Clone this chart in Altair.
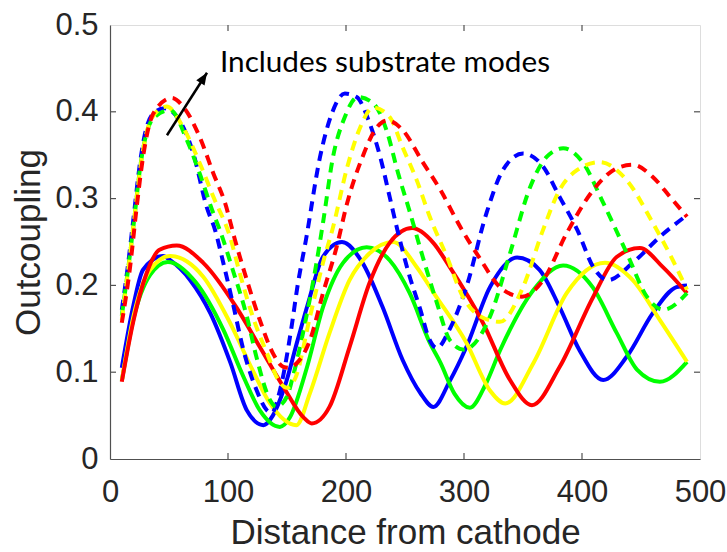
import altair as alt
import pandas as pd

# ---------------- data ----------------
blue_solid_x = [10, 20, 28, 45, 51, 68, 85, 102, 116, 130, 138, 148, 159, 168, 180.5, 196.6, 214, 231, 248, 263, 274, 288, 302, 322, 345, 364, 381, 398, 418, 438, 460, 480, 489]
blue_solid_y = [0.105, 0.178, 0.218, 0.234, 0.229, 0.206, 0.168, 0.111, 0.056, 0.039, 0.05, 0.083, 0.137, 0.18, 0.233, 0.25, 0.226, 0.175, 0.114, 0.076, 0.06, 0.09, 0.129, 0.198, 0.232, 0.218, 0.175, 0.125, 0.091, 0.118, 0.168, 0.198, 0.2]

green_solid_x = [10, 20, 34, 49, 73, 96, 113, 127, 144, 152.5, 167, 180.5, 197.5, 217.5, 237, 254, 271, 280, 292, 305, 318, 330.5, 359, 384, 409, 429.5, 446.6, 466, 489]
green_solid_y = [0.09, 0.162, 0.212, 0.227, 0.203, 0.149, 0.095, 0.056, 0.037, 0.048, 0.106, 0.175, 0.226, 0.244, 0.229, 0.191, 0.134, 0.111, 0.075, 0.059, 0.085, 0.125, 0.195, 0.223, 0.198, 0.145, 0.103, 0.089, 0.112]

yellow_solid_x = [10, 20, 34, 51, 79, 101.7, 121, 135.6, 158, 169.5, 186, 203, 220, 240, 260, 275, 302, 322, 335, 359, 387, 419.5, 443, 466, 489]
yellow_solid_y = [0.09, 0.165, 0.218, 0.234, 0.21, 0.157, 0.102, 0.064, 0.039, 0.076, 0.145, 0.206, 0.237, 0.25, 0.221, 0.19, 0.134, 0.079, 0.064, 0.111, 0.191, 0.226, 0.206, 0.16, 0.112]

red_solid_x = [10, 20, 31, 42, 56.5, 79, 107, 127, 147, 164, 171, 186, 203, 220, 237, 256, 274, 288, 316, 339, 357.6, 381, 409.6, 429.6, 449, 468.6, 489]
red_solid_y = [0.089, 0.16, 0.214, 0.241, 0.246, 0.226, 0.175, 0.129, 0.083, 0.048, 0.041, 0.06, 0.129, 0.203, 0.249, 0.266, 0.249, 0.221, 0.157, 0.091, 0.062, 0.106, 0.187, 0.233, 0.243, 0.221, 0.191]

blue_dash_x = [10, 15, 19.7, 25.4, 29.7, 36.7, 46, 59, 70.6, 82, 89, 96, 104, 113, 124, 133, 137, 144, 153.5, 159, 166, 178, 188, 199, 209, 220, 229, 237, 243, 254, 263, 270, 277, 288, 302, 319, 333, 350, 367, 381, 396, 409.6, 422, 443, 466, 489]
blue_dash_y = [0.172, 0.221, 0.275, 0.341, 0.375, 0.398, 0.404, 0.39, 0.352, 0.29, 0.264, 0.226, 0.18, 0.126, 0.08, 0.056, 0.053, 0.079, 0.149, 0.2, 0.252, 0.348, 0.398, 0.421, 0.417, 0.387, 0.348, 0.302, 0.267, 0.21, 0.172, 0.14, 0.128, 0.15, 0.198, 0.283, 0.333, 0.352, 0.337, 0.302, 0.264, 0.221, 0.206, 0.226, 0.256, 0.281]

green_dash_x = [10, 15, 20, 26, 30, 37, 51, 65, 76, 87.6, 93, 104, 116, 124, 135.6, 141, 150, 155, 167, 175, 180.5, 189, 199, 210, 223, 235, 244, 254, 265, 277, 288, 300, 322, 339, 356, 370, 384, 401, 418, 438, 455, 469, 489]
green_dash_y = [0.165, 0.215, 0.27, 0.34, 0.37, 0.393, 0.402, 0.368, 0.329, 0.283, 0.264, 0.218, 0.164, 0.118, 0.068, 0.06, 0.072, 0.095, 0.168, 0.226, 0.272, 0.348, 0.394, 0.417, 0.41, 0.376, 0.33, 0.285, 0.233, 0.18, 0.137, 0.126, 0.164, 0.237, 0.313, 0.348, 0.358, 0.341, 0.295, 0.237, 0.187, 0.172, 0.191]

yellow_dash_x = [10, 15, 20, 26, 30, 37, 48, 62, 76, 87.6, 101.7, 110, 121, 133, 144, 150, 157, 169.5, 180.5, 189, 201, 212, 223, 237, 248, 260, 271, 285.5, 299, 313, 330.5, 350, 367, 381, 396, 415, 438, 460, 477, 489]
yellow_dash_y = [0.16, 0.213, 0.27, 0.338, 0.37, 0.396, 0.406, 0.382, 0.341, 0.302, 0.256, 0.214, 0.164, 0.122, 0.088, 0.082, 0.093, 0.164, 0.226, 0.267, 0.336, 0.382, 0.405, 0.394, 0.359, 0.321, 0.279, 0.233, 0.187, 0.165, 0.158, 0.198, 0.264, 0.31, 0.333, 0.342, 0.321, 0.272, 0.229, 0.195]

red_dash_x = [10, 17, 22.6, 28, 36.7, 52.4, 62, 76, 87.6, 97.5, 106, 116, 127, 138, 147, 152, 158, 169.5, 180.5, 192, 201, 214, 226, 235, 248, 265, 280, 297, 313, 330.5, 349, 367, 387, 409.6, 429.6, 443, 460, 474.6, 489]
red_dash_y = [0.157, 0.221, 0.29, 0.348, 0.398, 0.416, 0.406, 0.371, 0.329, 0.295, 0.252, 0.206, 0.16, 0.122, 0.106, 0.105, 0.11, 0.137, 0.191, 0.244, 0.295, 0.348, 0.382, 0.39, 0.379, 0.342, 0.31, 0.267, 0.232, 0.198, 0.187, 0.206, 0.26, 0.31, 0.335, 0.339, 0.325, 0.302, 0.279]

series_names = ["blue", "green", "yellow", "red"]
series_colors = ["#0000ff", "#00ff00", "#ffff00", "#ff0000"]

x_tick_values = [0, 100, 200, 300, 400, 500]
y_tick_values = [0, 0.1, 0.2, 0.3, 0.4, 0.5]
inner_x_ticks = [100, 200, 300, 400]
inner_y_ticks = [0.1, 0.2, 0.3, 0.4]

annotation_text = "Includes substrate modes"
annotation_x = [93.2]
annotation_y = [0.446]
arrow_x = [48.3]
arrow_y = [0.373]
arrow_x2 = [82.2]
arrow_y2 = [0.445]

# ---------------- build tables ----------------
rows = []
solid = {"blue": (blue_solid_x, blue_solid_y), "green": (green_solid_x, green_solid_y),
         "yellow": (yellow_solid_x, yellow_solid_y), "red": (red_solid_x, red_solid_y)}
dashed = {"blue": (blue_dash_x, blue_dash_y), "green": (green_dash_x, green_dash_y),
          "yellow": (yellow_dash_x, yellow_dash_y), "red": (red_dash_x, red_dash_y)}
for name, (xs, ys) in solid.items():
    for i, (a, b) in enumerate(zip(xs, ys)):
        rows.append({"x": a, "y": b, "series": name, "style": "solid", "i": i})
for name, (xs, ys) in dashed.items():
    for i, (a, b) in enumerate(zip(xs, ys)):
        rows.append({"x": a, "y": b, "series": name, "style": "dashed", "i": i})
df = pd.DataFrame(rows)

W, H = 590, 434
AX = "#505050"
TXT = "#262626"

xscale = alt.Scale(domain=[0, 500], nice=False, zero=False)
yscale = alt.Scale(domain=[0, 0.5], nice=False, zero=False)
cscale = alt.Scale(domain=series_names, range=series_colors)

xaxis = alt.Axis(values=x_tick_values, title="Distance from cathode", grid=False, ticks=False,
                 labelPadding=18, labelFlush=False, labelOverlap=False, labelFontSize=31,
                 labelFont="Liberation Sans", labelColor=TXT, titleFont="Liberation Sans",
                 titleFontSize=35, titleFontWeight="normal", titleColor=TXT,
                 titleBaseline="alphabetic", titleY=84, domainColor=AX, domainWidth=1.2)
yaxis = alt.Axis(values=y_tick_values, title="Outcoupling", grid=False, ticks=False,
                 labelPadding=12, labelFlush=False, labelOverlap=False, labelFontSize=31,
                 labelFont="Liberation Sans", labelColor=TXT, titleFont="Liberation Sans",
                 titleFontSize=35, titleFontWeight="normal", titleColor=TXT,
                 titleBaseline="alphabetic", titleX=-71, domainColor=AX, domainWidth=1.2,
                 format=".1~f")

base = alt.Chart(df)

solid_layer = base.transform_filter(alt.datum.style == "solid").mark_line(
    strokeWidth=4, interpolate="monotone"
).encode(
    x=alt.X("x:Q", scale=xscale, axis=xaxis),
    y=alt.Y("y:Q", scale=yscale, axis=yaxis),
    color=alt.Color("series:N", scale=cscale, legend=None),
    order=alt.Order("i:Q"),
)

dash_layer = base.transform_filter(alt.datum.style == "dashed").mark_line(
    strokeWidth=4, strokeDash=[10, 7], interpolate="monotone"
).encode(
    x=alt.X("x:Q", scale=xscale),
    y=alt.Y("y:Q", scale=yscale),
    color=alt.Color("series:N", scale=cscale, legend=None),
    order=alt.Order("i:Q"),
)

xt = pd.DataFrame({"v": inner_x_ticks})
yt = pd.DataFrame({"v": inner_y_ticks})
tick_style = dict(color=AX, strokeWidth=1.2)
xt_bottom = alt.Chart(xt).mark_rule(**tick_style).encode(
    x=alt.X("v:Q", scale=xscale), y=alt.value(H), y2=alt.value(H - 6))
xt_top = alt.Chart(xt).mark_rule(**tick_style).encode(
    x=alt.X("v:Q", scale=xscale), y=alt.value(0), y2=alt.value(6))
yt_left = alt.Chart(yt).mark_rule(**tick_style).encode(
    y=alt.Y("v:Q", scale=yscale), x=alt.value(0), x2=alt.value(6))
yt_right = alt.Chart(yt).mark_rule(**tick_style).encode(
    y=alt.Y("v:Q", scale=yscale), x=alt.value(W), x2=alt.value(W - 6))

arrow_df = pd.DataFrame({"x": arrow_x, "y": arrow_y, "x2": arrow_x2, "y2": arrow_y2})
arrow_line = alt.Chart(arrow_df).mark_rule(color="black", strokeWidth=2.5).encode(
    x=alt.X("x:Q", scale=xscale), y=alt.Y("y:Q", scale=yscale),
    x2="x2:Q", y2="y2:Q")
arrow_head = alt.Chart(arrow_df).mark_point(
    shape="M0,0L-0.45,1.1L0.45,1.1Z", filled=True, color="black", opacity=1,
    size=484, angle=33, strokeWidth=0
).encode(x=alt.X("x2:Q", scale=xscale), y=alt.Y("y2:Q", scale=yscale))

ann_df = pd.DataFrame({"x": annotation_x, "y": annotation_y, "t": [annotation_text]})
ann = alt.Chart(ann_df).mark_text(
    align="left", baseline="alphabetic", font="Lato", fontSize=29.7, color="black"
).encode(x=alt.X("x:Q", scale=xscale), y=alt.Y("y:Q", scale=yscale), text="t:N")

chart = alt.layer(
    solid_layer, dash_layer, xt_bottom, xt_top, yt_left, yt_right, arrow_line, arrow_head, ann
).properties(
    width=W, height=H,
    autosize=alt.AutoSizeParams(type="none"),
    padding={"left": 110, "top": 25, "right": 27, "bottom": 93},
).configure_view(
    stroke=AX, strokeWidth=1.2
).configure(background="white")

chart.save("out.html", embed_options={"renderer": "svg", "actions": False})
